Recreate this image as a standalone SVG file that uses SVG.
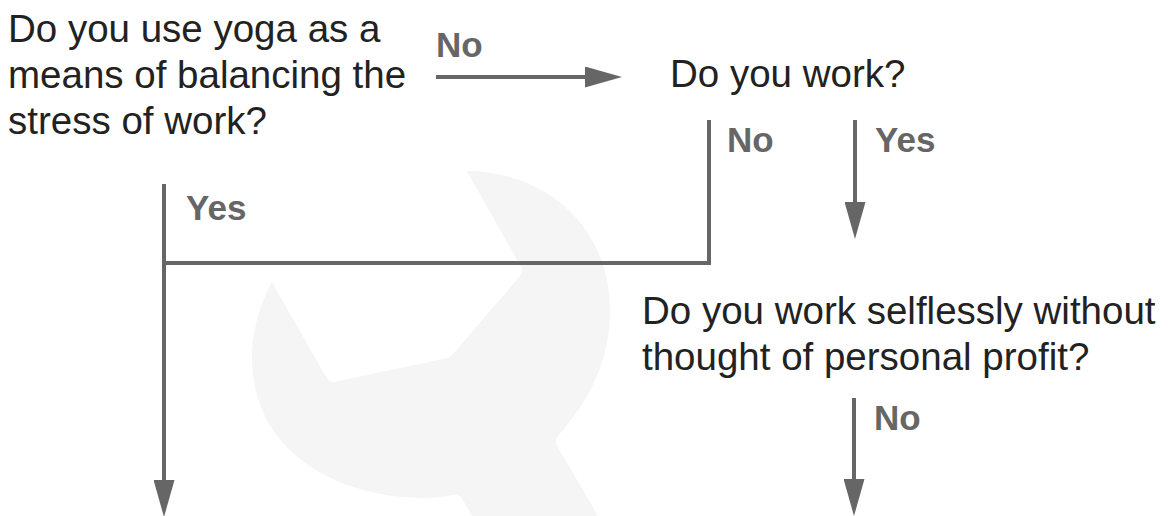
<svg xmlns="http://www.w3.org/2000/svg" width="1172" height="516" viewBox="0 0 1172 516">
  <style>
    .q { font-family: "Liberation Sans", Arial, Helvetica, sans-serif; font-size: 38.5px; fill: #222; }
    .lbl { font-family: "Liberation Sans", Arial, Helvetica, sans-serif; font-size: 35px; font-weight: bold; fill: #666; }
    .edge { fill: none; stroke: #666; stroke-width: 4; }
  </style>
  <defs>
    <marker id="arrow" markerUnits="userSpaceOnUse" markerWidth="37" markerHeight="21" refX="0" refY="10.5" orient="auto">
      <path d="M0,0 L37,10.5 L0,21 Z" fill="#666"/>
    </marker>
  </defs>
  <rect width="1172" height="516" fill="#ffffff"/>
  <path id="watermark" fill="#f5f5f5" d="M466.7,170.7 C550,172 610,230 610,310 C610,360 590,400 558,436 Q554,441 557.7,446.7 L598,516 L472,516 L461.7,498 Q458,493 453,495 C390,508 252,480 252,357 C252,330 260,305 271.7,281.7 L326,376.7 Q329,383 335,381.7 L446.7,358.3 Q451,357 453,354 L520,276 Q523,272 521.7,268.3 Z"/>
  <g id="connectors">
    <line class="edge" x1="436" y1="77" x2="585" y2="77" marker-end="url(#arrow)"/>
    <polyline class="edge" points="709,120 709,263 162,263"/>
    <line class="edge" x1="164" y1="184" x2="164" y2="480" marker-end="url(#arrow)"/>
    <line class="edge" x1="855" y1="120" x2="855" y2="202" marker-end="url(#arrow)"/>
    <line class="edge" x1="854" y1="398" x2="854" y2="479" marker-end="url(#arrow)"/>
    <text class="lbl" x="436" y="57">No</text>
    <text class="lbl" x="727" y="152">No</text>
    <text class="lbl" x="875" y="152">Yes</text>
    <text class="lbl" x="186" y="220">Yes</text>
    <text class="lbl" x="874" y="430">No</text>
  </g>
  <g id="q1">
    <text class="q" x="8" y="42">Do you use yoga as a</text>
    <text class="q" x="8" y="88">means of balancing the</text>
    <text class="q" x="8" y="134">stress of work?</text>
  </g>
  <g id="q2">
    <text class="q" x="670" y="87">Do you work?</text>
  </g>
  <g id="q3">
    <text class="q" x="642" y="324">Do you work selflessly without</text>
    <text class="q" x="642" y="370">thought of personal profit?</text>
  </g>
</svg>
